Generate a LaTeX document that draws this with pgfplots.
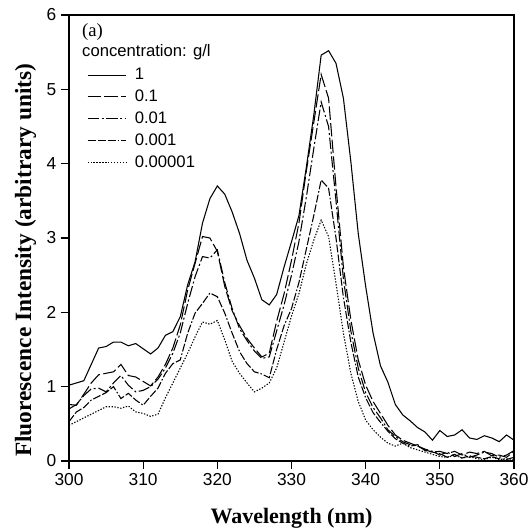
\documentclass[border=0pt]{standalone}
\usepackage{pgfplots}
\pgfplotsset{compat=1.18}
\usepackage{fontspec}
\setmainfont{Liberation Serif}
\newfontfamily\arial{Liberation Sans}
\begin{document}
\begin{tikzpicture}
\begin{axis}[
  scale only axis, width=333.75pt, height=334.5pt,
  xmin=300, xmax=360, ymin=0, ymax=6,
  xtick={300,310,...,360}, ytick={0,1,...,6},
  tick align=outside, tick pos=left,
  major tick length=6pt,
  axis line style={line width=1pt},
  every tick/.style={line width=0.9pt,black},
  /pgf/number format/assume math mode=true,
  ticklabel style={font=\arial\fontsize{13}{15}\selectfont},
  xlabel={\bfseries Wavelength (nm)},
  ylabel={\bfseries Fluorescence Intensity (arbitrary units)},
  xlabel style={font=\fontsize{16.5}{18}\selectfont, yshift=-10pt},
  ylabel style={font=\fontsize{17.5}{20}\selectfont, at={(ticklabel cs:0.45)}, yshift=1pt},
  legend style={at={(rel axis cs:0.04,0.887)}, anchor=north west, draw=none, fill=none,
    inner sep=0pt, font=\arial\fontsize{12.5}{14}\selectfont, row sep=2.2pt,
    /tikz/every even column/.append style={column sep=0pt}},
  legend cell align=left,
  legend image code/.code={\draw[#1] (0pt,0pt) -- (29pt,0pt);},
  legend style={nodes={inner xsep=6pt}},
  every axis plot/.append style={line width=0.8pt, black},
]
\addplot[solid] coordinates {
(300,1.02)(301,1.05)(302,1.08)(303,1.30)(304,1.52)(305,1.54)(306,1.60)(307,1.60)(308,1.55)(309,1.58)
(310,1.51)(311,1.44)(312,1.52)(313,1.69)(314,1.74)(315,1.94)(316,2.37)(317,2.68)(318,3.20)(319,3.53)
(320,3.70)(321,3.59)(322,3.35)(323,3.06)(324,2.70)(325,2.46)(326,2.17)(327,2.10)(328,2.24)(329,2.61)
(330,2.95)(331,3.30)(332,3.95)(333,4.65)(334,5.46)(335,5.52)(336,5.35)(337,4.88)(338,4.03)(339,3.06)
(340,2.35)(341,1.72)(342,1.28)(343,1.06)(344,0.76)(345,0.62)(346,0.54)(347,0.45)(348,0.39)(349,0.28)
(350,0.41)(351,0.33)(352,0.35)(353,0.42)(354,0.31)(355,0.29)(356,0.34)(357,0.31)(358,0.26)(359,0.35)
(360,0.28)};
\addlegendentry{1}
\addplot[dash pattern=on 10pt off 2.5pt] coordinates {
(300,0.76)(301,0.75)(302,0.90)(303,1.05)(304,1.16)(305,1.18)(306,1.20)(307,1.30)(308,1.15)(309,1.13)
(310,1.07)(311,1.01)(312,1.13)(313,1.30)(314,1.52)(315,1.83)(316,2.30)(317,2.66)(318,3.02)(319,3.00)
(320,2.82)(321,2.35)(322,2.02)(323,1.82)(324,1.65)(325,1.52)(326,1.40)(327,1.45)(328,1.88)(329,2.25)
(330,2.70)(331,3.20)(332,3.90)(333,4.55)(334,5.20)(335,4.88)(336,3.69)(337,2.61)(338,1.90)(339,1.36)
(340,1.02)(341,0.80)(342,0.64)(343,0.48)(344,0.35)(345,0.28)(346,0.24)(347,0.20)(348,0.15)(349,0.12)
(350,0.13)(351,0.10)(352,0.13)(353,0.08)(354,0.12)(355,0.10)(356,0.13)(357,0.07)(358,0.08)(359,0.05)
(360,0.13)};
\addlegendentry{0.1}
\addplot[dash pattern=on 8.5pt off 2pt on 1.5pt off 2pt] coordinates {
(300,0.70)(301,0.76)(302,0.88)(303,0.97)(304,0.98)(305,0.93)(306,1.05)(307,1.15)(308,1.02)(309,0.93)
(310,0.95)(311,1.00)(312,1.10)(313,1.25)(314,1.45)(315,1.72)(316,2.12)(317,2.48)(318,2.75)(319,2.73)
(320,2.84)(321,2.40)(322,2.05)(323,1.78)(324,1.62)(325,1.48)(326,1.38)(327,1.40)(328,1.75)(329,2.10)
(330,2.50)(331,2.95)(332,3.55)(333,4.20)(334,4.83)(335,4.50)(336,3.50)(337,2.45)(338,1.75)(339,1.25)
(340,0.92)(341,0.72)(342,0.58)(343,0.42)(344,0.33)(345,0.26)(346,0.22)(347,0.20)(348,0.16)(349,0.13)
(350,0.08)(351,0.12)(352,0.06)(353,0.10)(354,0.05)(355,0.08)(356,0.12)(357,0.10)(358,0.05)(359,0.08)
(360,0.14)};
\addlegendentry{0.01}
\addplot[dash pattern=on 6pt off 1.5pt on 6pt off 1.5pt on 6pt off 1.5pt on 1.2pt off 1.5pt] coordinates {
(300,0.53)(301,0.66)(302,0.72)(303,0.82)(304,0.87)(305,0.92)(306,1.00)(307,0.84)(308,0.91)(309,0.82)
(310,0.75)(311,0.87)(312,0.98)(313,1.18)(314,1.31)(315,1.36)(316,1.72)(317,1.99)(318,2.12)(319,2.26)
(320,2.21)(321,1.99)(322,1.72)(323,1.47)(324,1.31)(325,1.20)(326,1.17)(327,1.12)(328,1.50)(329,1.82)
(330,2.05)(331,2.40)(332,2.85)(333,3.30)(334,3.78)(335,3.67)(336,3.00)(337,2.20)(338,1.60)(339,1.13)
(340,0.85)(341,0.65)(342,0.52)(343,0.40)(344,0.30)(345,0.24)(346,0.20)(347,0.22)(348,0.14)(349,0.12)
(350,0.10)(351,0.05)(352,0.09)(353,0.04)(354,0.07)(355,0.05)(356,0.03)(357,0.06)(358,0.03)(359,0.02)
(360,0.05)};
\addlegendentry{0.001}
\addplot[dash pattern=on 1pt off 1.2pt] coordinates {
(300,0.48)(301,0.53)(302,0.58)(303,0.63)(304,0.68)(305,0.73)(306,0.73)(307,0.71)(308,0.74)(309,0.66)
(310,0.64)(311,0.60)(312,0.63)(313,0.85)(314,1.05)(315,1.25)(316,1.45)(317,1.67)(318,1.87)(319,1.84)
(320,1.89)(321,1.63)(322,1.34)(323,1.18)(324,1.05)(325,0.93)(326,0.98)(327,1.05)(328,1.25)(329,1.60)
(330,1.95)(331,2.25)(332,2.65)(333,2.97)(334,3.24)(335,3.02)(336,2.39)(337,1.72)(338,1.18)(339,0.80)
(340,0.55)(341,0.42)(342,0.32)(343,0.24)(344,0.20)(345,0.24)(346,0.18)(347,0.15)(348,0.12)(349,0.09)
(350,0.06)(351,0.05)(352,0.08)(353,0.04)(354,0.06)(355,0.03)(356,0.02)(357,0.05)(358,0.02)(359,0.03)
(360,0.02)};
\addlegendentry{0.00001}
\node[anchor=west, inner sep=0pt, font=\fontsize{14}{16}\selectfont] at (rel axis cs:0.029,0.962) {(a)};
\node[anchor=west, inner sep=0pt, font=\arial\fontsize{12.5}{14}\selectfont] at (rel axis cs:0.029,0.917) {concentration: g/l};
\coordinate (bl) at (rel axis cs:0,0);
\coordinate (tr) at (rel axis cs:1,1);
\end{axis}
\pgfresetboundingbox
\path ([shift={(-51.75pt,-53.25pt)}]bl) rectangle ([shift={(11.25pt,11.25pt)}]tr);
\end{tikzpicture}
\end{document}
